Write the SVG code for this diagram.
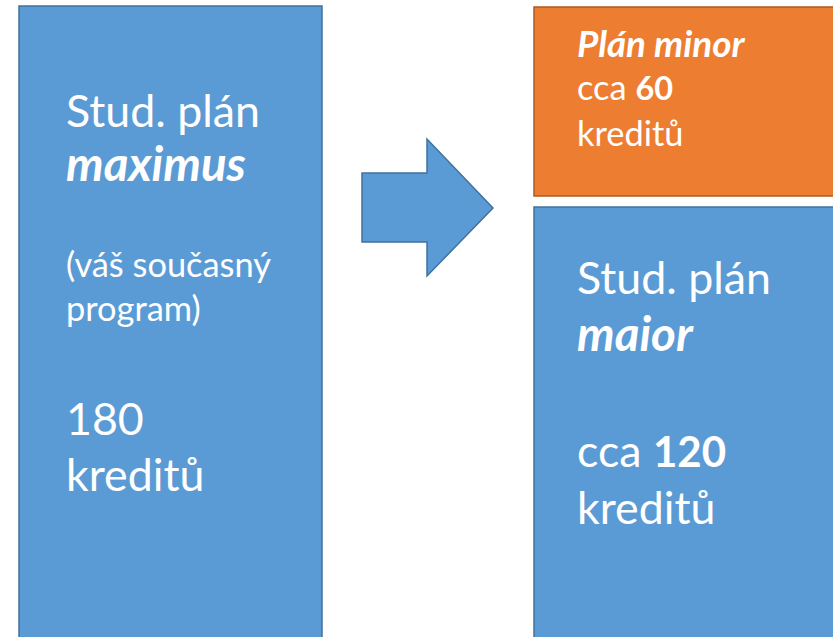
<svg xmlns="http://www.w3.org/2000/svg" width="833" height="637" viewBox="0 0 833 637">
<style>
.blue{fill:#5B9BD5;stroke:#41719C;stroke-width:1.5}
.orange{fill:#ED7D31;stroke:#AE5A21;stroke-width:1.5}
text{font-family:Lato,"Open Sans","Liberation Sans",sans-serif;fill:#FFFFFF}
.L{font-size:44.7px}
.S{font-size:34.4px}
.Lbi{font-size:47.5px;font-weight:bold;font-style:italic}
.Sbi{font-size:36.8px;font-weight:bold;font-style:italic}
.b{font-weight:bold}
</style>
<rect width="833" height="637" fill="#FFFFFF"/>
<g id="maximus">
<rect class="blue" x="19" y="6" width="303" height="640"/>
<text class="L" x="66" y="127">Stud. plán</text>
<text class="Lbi" x="66" y="181">maximus</text>
<text class="S" x="66" y="277">(váš současný</text>
<text class="S" x="66" y="321">program)</text>
<text class="L" x="66" y="435">180</text>
<text class="L" x="66" y="491">kreditů</text>
</g>
<g id="minor">
<rect class="orange" x="534" y="7" width="310" height="189"/>
<text class="Sbi" x="577" y="57">Plán minor</text>
<text class="S" x="577" y="100">cca <tspan class="b" font-size="32.5">60</tspan></text>
<text class="S" x="577" y="146">kreditů</text>
</g>
<g id="maior">
<rect class="blue" x="534" y="207" width="310" height="440"/>
<text class="L" x="577" y="294">Stud. plán</text>
<text class="Lbi" x="577" y="351">maior</text>
<text class="L" x="577" y="467">cca <tspan class="b" font-size="42">120</tspan></text>
<text class="L" x="577" y="524">kreditů</text>
</g>
<g id="connectors">
<polygon class="blue" points="362,173 427,173 427,139 493,208 427,276 427,242 362,242"/>
</g>
</svg>
